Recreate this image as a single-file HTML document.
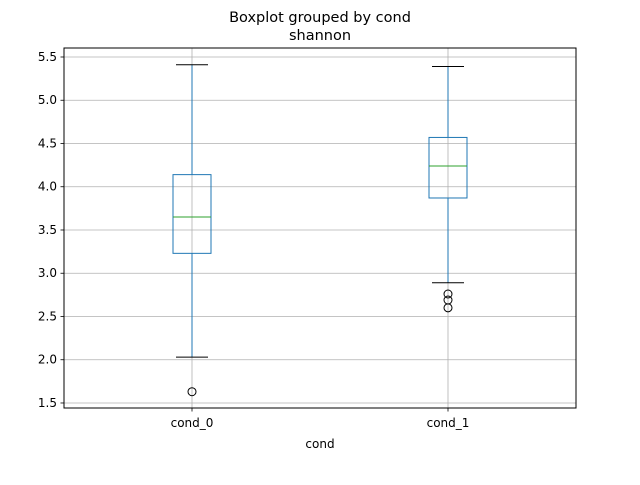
<!DOCTYPE html>
<html><head><meta charset="utf-8"><style>
body{margin:0;background:#fff;font-family:"Liberation Sans","DejaVu Sans",sans-serif;}
svg text{font-family:"DejaVu Sans","Liberation Sans",sans-serif;}
</style></head><body>
<svg id="chart" width="640" height="480" viewBox="0 0 640 480">
<rect width="640" height="480" fill="#fff"/>
<text x="320" y="22" text-anchor="middle" font-size="14.5">Boxplot grouped by cond</text>
<text x="320" y="40" text-anchor="middle" font-size="14.5">shannon</text>
<g id="grid"></g>
<g id="marks"></g>
<rect x="64" y="48" width="512" height="360" fill="none" stroke="#000" stroke-width="1"/>
<g id="axes"></g>
<text x="320" y="448" text-anchor="middle" font-size="12">cond</text>
</svg>
<script>
const categories = ["cond_0", "cond_1"];
const whiskerLow = [2.03, 2.89];
const q1 = [3.23, 3.87];
const median = [3.65, 4.24];
const q3 = [4.14, 4.57];
const whiskerHigh = [5.41, 5.39];
const outliers = [[1.63], [2.76, 2.69, 2.60]];
const yTicks = [1.5, 2.0, 2.5, 3.0, 3.5, 4.0, 4.5, 5.0, 5.5];

const NS = "http://www.w3.org/2000/svg";
const L = 64, R = 576, T = 48, B = 408;
const yMin = 1.442, yMax = 5.604;
function y(v){ return B - (v - yMin) / (yMax - yMin) * (B - T); }
function x(i){ return L + (R - L) * (i + 0.5) / categories.length; }
function mk(tag, attrs, parent){
  const e = document.createElementNS(NS, tag);
  for (const k in attrs) e.setAttribute(k, attrs[k]);
  parent.appendChild(e); return e;
}
const grid = document.getElementById('grid');
const marks = document.getElementById('marks');
const axes = document.getElementById('axes');

yTicks.forEach(t => {
  const yy = y(t);
  const g = mk('line', {x1:L, x2:R, y1:yy, y2:yy, stroke:'#b0b0b0', 'stroke-width':0.8}, grid);
  
  
  const tk = mk('line', {x1:L-3.5, x2:L, y1:yy, y2:yy, stroke:'#000', 'stroke-width':0.8}, axes);
  
  
  const tx = mk('text', {x:L-7, y:yy+4, 'text-anchor':'end', 'font-size':12}, axes);
  tx.textContent = t.toFixed(1);
  
  
});

categories.forEach((c, i) => {
  const cx = x(i);
  const g0 = mk('line', {x1:cx, x2:cx, y1:T, y2:B, stroke:'#b0b0b0', 'stroke-width':0.8}, grid);
  
  
  const tk = mk('line', {x1:cx, x2:cx, y1:B, y2:B+3.5, stroke:'#000', 'stroke-width':0.8}, axes);
  
  
  const tx = mk('text', {x:cx, y:B+19, 'text-anchor':'middle', 'font-size':12}, axes);
  tx.textContent = c;
  
  

  const g = mk('g', {}, marks);
  
  
  const bw = 38, cw = 32, col = '#1f77b4';
  mk('line', {x1:cx, x2:cx, y1:y(q1[i]), y2:y(whiskerLow[i]), stroke:col, 'stroke-width':1}, g);
  mk('line', {x1:cx, x2:cx, y1:y(q3[i]), y2:y(whiskerHigh[i]), stroke:col, 'stroke-width':1}, g);
  mk('line', {x1:cx-cw/2, x2:cx+cw/2, y1:y(whiskerLow[i]), y2:y(whiskerLow[i]), stroke:'#000', 'stroke-width':1}, g);
  mk('line', {x1:cx-cw/2, x2:cx+cw/2, y1:y(whiskerHigh[i]), y2:y(whiskerHigh[i]), stroke:'#000', 'stroke-width':1}, g);
  mk('rect', {x:cx-bw/2, y:y(q3[i]), width:bw, height:y(q1[i])-y(q3[i]), fill:'none', stroke:col, 'stroke-width':1}, g);
  mk('line', {x1:cx-bw/2, x2:cx+bw/2, y1:y(median[i]), y2:y(median[i]), stroke:'#2ca02c', 'stroke-width':1}, g);
  outliers[i].forEach(v => {
    const o = mk('circle', {cx:cx, cy:y(v), r:4, fill:'none', stroke:'#000', 'stroke-width':1}, g);
    
    
  });
});
</script>
</body></html>
